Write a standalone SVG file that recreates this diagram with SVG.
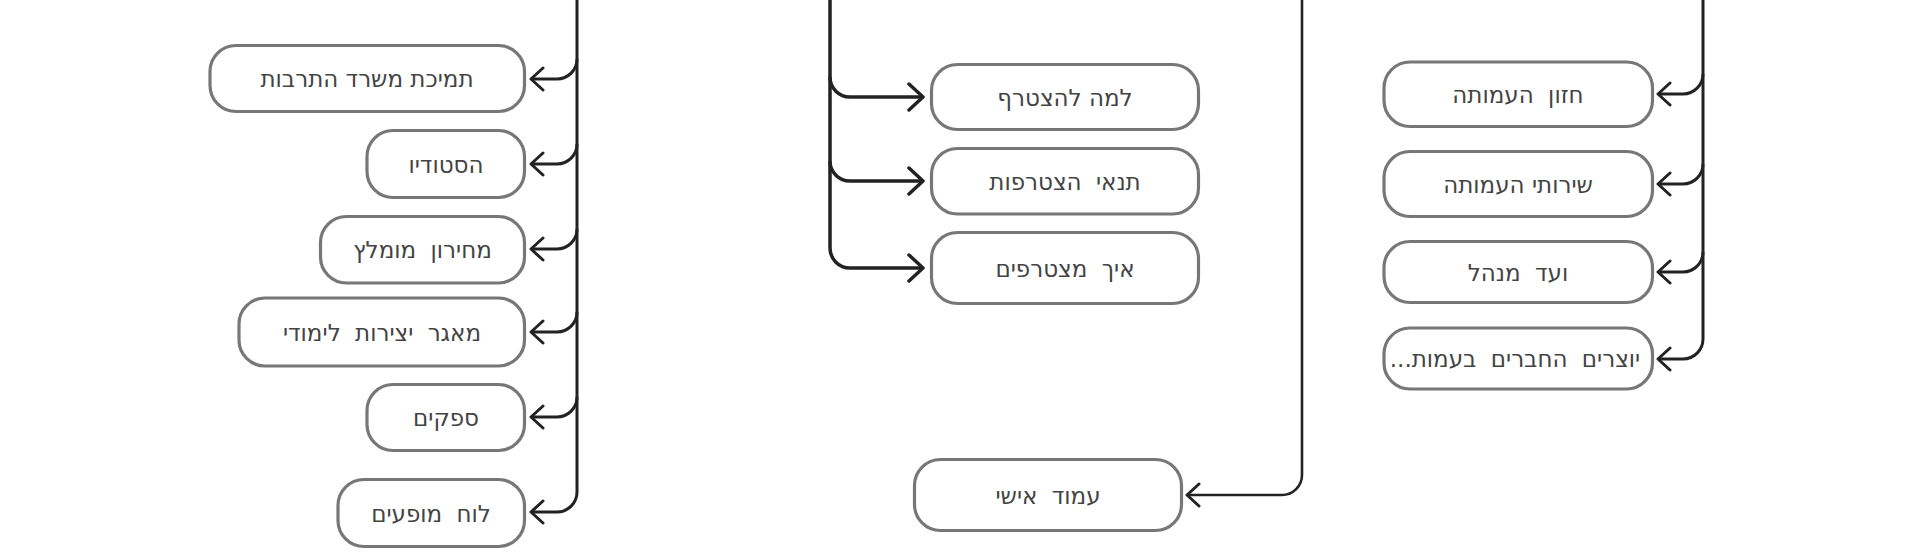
<svg xmlns="http://www.w3.org/2000/svg" width="1920" height="560" viewBox="0 0 1920 560">
<style>
.box{fill:#fff;stroke:#777;stroke-width:3.2}
.lbl{font-family:"DejaVu Sans",sans-serif;font-size:23px;fill:#444;text-anchor:middle}
.w{word-spacing:7px}
.c{fill:none;stroke:#222;stroke-width:3}
.c2{fill:none;stroke:#222;stroke-width:3.5}
.c3{fill:none;stroke:#222;stroke-width:2.6}
</style>
<defs>
<marker id="ah" viewBox="-16 -14 18 28" refX="0" refY="0" markerWidth="18" markerHeight="28" markerUnits="userSpaceOnUse" orient="auto">
<path d="M-12,-11 L0,0 L-12,11" fill="none" stroke="#222" stroke-width="3" stroke-linecap="round" stroke-linejoin="round"/>
</marker>
<marker id="ah2" viewBox="-18 -16 20 32" refX="0" refY="0" markerWidth="20" markerHeight="32" markerUnits="userSpaceOnUse" orient="auto">
<path d="M-14,-13 L0,0 L-14,13" fill="none" stroke="#222" stroke-width="3.5" stroke-linecap="round" stroke-linejoin="round"/>
</marker>
</defs>
<rect width="1920" height="560" fill="#fff"/>
<g id="connectors">
<path class="c" d="M577,0 V492 A20,20 0 0 1 557,512 H531" marker-end="url(#ah)"/>
<path class="c" d="M577,59 A20,20 0 0 1 557,79 H531" marker-end="url(#ah)"/>
<path class="c" d="M577,144 A20,20 0 0 1 557,164 H531" marker-end="url(#ah)"/>
<path class="c" d="M577,229 A20,20 0 0 1 557,249 H531" marker-end="url(#ah)"/>
<path class="c" d="M577,312 A20,20 0 0 1 557,332 H531" marker-end="url(#ah)"/>
<path class="c" d="M577,397 A20,20 0 0 1 557,417 H531" marker-end="url(#ah)"/>
<path class="c2" d="M830,0 V248 A20,20 0 0 0 850,268 H923" marker-end="url(#ah2)"/>
<path class="c2" d="M830,77 A20,20 0 0 0 850,97 H923" marker-end="url(#ah2)"/>
<path class="c2" d="M830,161 A20,20 0 0 0 850,181 H923" marker-end="url(#ah2)"/>
<path class="c3" d="M1302,0 V475 A20,20 0 0 1 1282,495 H1187" marker-end="url(#ah)"/>
<path class="c" d="M1703,0 V339 A20,20 0 0 1 1683,359 H1658" marker-end="url(#ah)"/>
<path class="c" d="M1703,74 A20,20 0 0 1 1683,94 H1658" marker-end="url(#ah)"/>
<path class="c" d="M1703,164 A20,20 0 0 1 1683,184 H1658" marker-end="url(#ah)"/>
<path class="c" d="M1703,252 A20,20 0 0 1 1683,272 H1658" marker-end="url(#ah)"/>
</g>
<g id="n-tmichat"><rect class="box" x="210" y="45.5" width="314.5" height="66" rx="26"/><text class="lbl" x="367" y="87" direction="rtl">תמיכת משרד התרבות</text></g>
<g id="n-studio"><rect class="box" x="367" y="130.5" width="157.5" height="67" rx="26"/><text class="lbl" x="446" y="172.5" direction="rtl">הסטודיו</text></g>
<g id="n-mechiron"><rect class="box" x="320.5" y="216.5" width="204" height="66.5" rx="26"/><text class="lbl w" x="422.5" y="258" direction="rtl">מחירון מומלץ</text></g>
<g id="n-maagar"><rect class="box" x="239" y="298" width="285.5" height="68" rx="26"/><text class="lbl w" x="382" y="340.5" direction="rtl">מאגר יצירות לימודי</text></g>
<g id="n-sapakim"><rect class="box" x="367" y="384.5" width="157.5" height="66" rx="26"/><text class="lbl" x="446" y="426" direction="rtl">ספקים</text></g>
<g id="n-luach"><rect class="box" x="338" y="479.5" width="186.5" height="67" rx="26"/><text class="lbl w" x="431" y="521.5" direction="rtl">לוח מופעים</text></g>
<g id="n-lama"><rect class="box" x="931.5" y="64.5" width="267" height="65" rx="26"/><text class="lbl" x="1065" y="105.5" direction="rtl">למה להצטרף</text></g>
<g id="n-tnaei"><rect class="box" x="931.5" y="148.5" width="267" height="65.5" rx="26"/><text class="lbl w" x="1065" y="189.5" direction="rtl">תנאי הצטרפות</text></g>
<g id="n-eich"><rect class="box" x="931.5" y="232.5" width="267" height="71" rx="26"/><text class="lbl w" x="1065" y="276.5" direction="rtl">איך מצטרפים</text></g>
<g id="n-amud"><rect class="box" x="914.5" y="459.5" width="267" height="71" rx="26"/><text class="lbl w" x="1048" y="503.5" direction="rtl">עמוד אישי</text></g>
<g id="n-chazon"><rect class="box" x="1384" y="62" width="268.5" height="64.5" rx="26"/><text class="lbl w" x="1518" y="102.5" direction="rtl">חזון העמותה</text></g>
<g id="n-sherutei"><rect class="box" x="1384" y="151.5" width="268.5" height="65" rx="26"/><text class="lbl" x="1518" y="192.5" direction="rtl">שירותי העמותה</text></g>
<g id="n-vaad"><rect class="box" x="1384" y="241.5" width="268.5" height="61" rx="26"/><text class="lbl w" x="1518" y="280.5" direction="rtl">ועד מנהל</text></g>
<g id="n-yotzrim"><rect class="box" x="1384" y="328" width="268.5" height="61" rx="26"/><text class="lbl w" x="1515" y="367" direction="rtl">יוצרים החברים בעמות...</text></g>
</svg>
